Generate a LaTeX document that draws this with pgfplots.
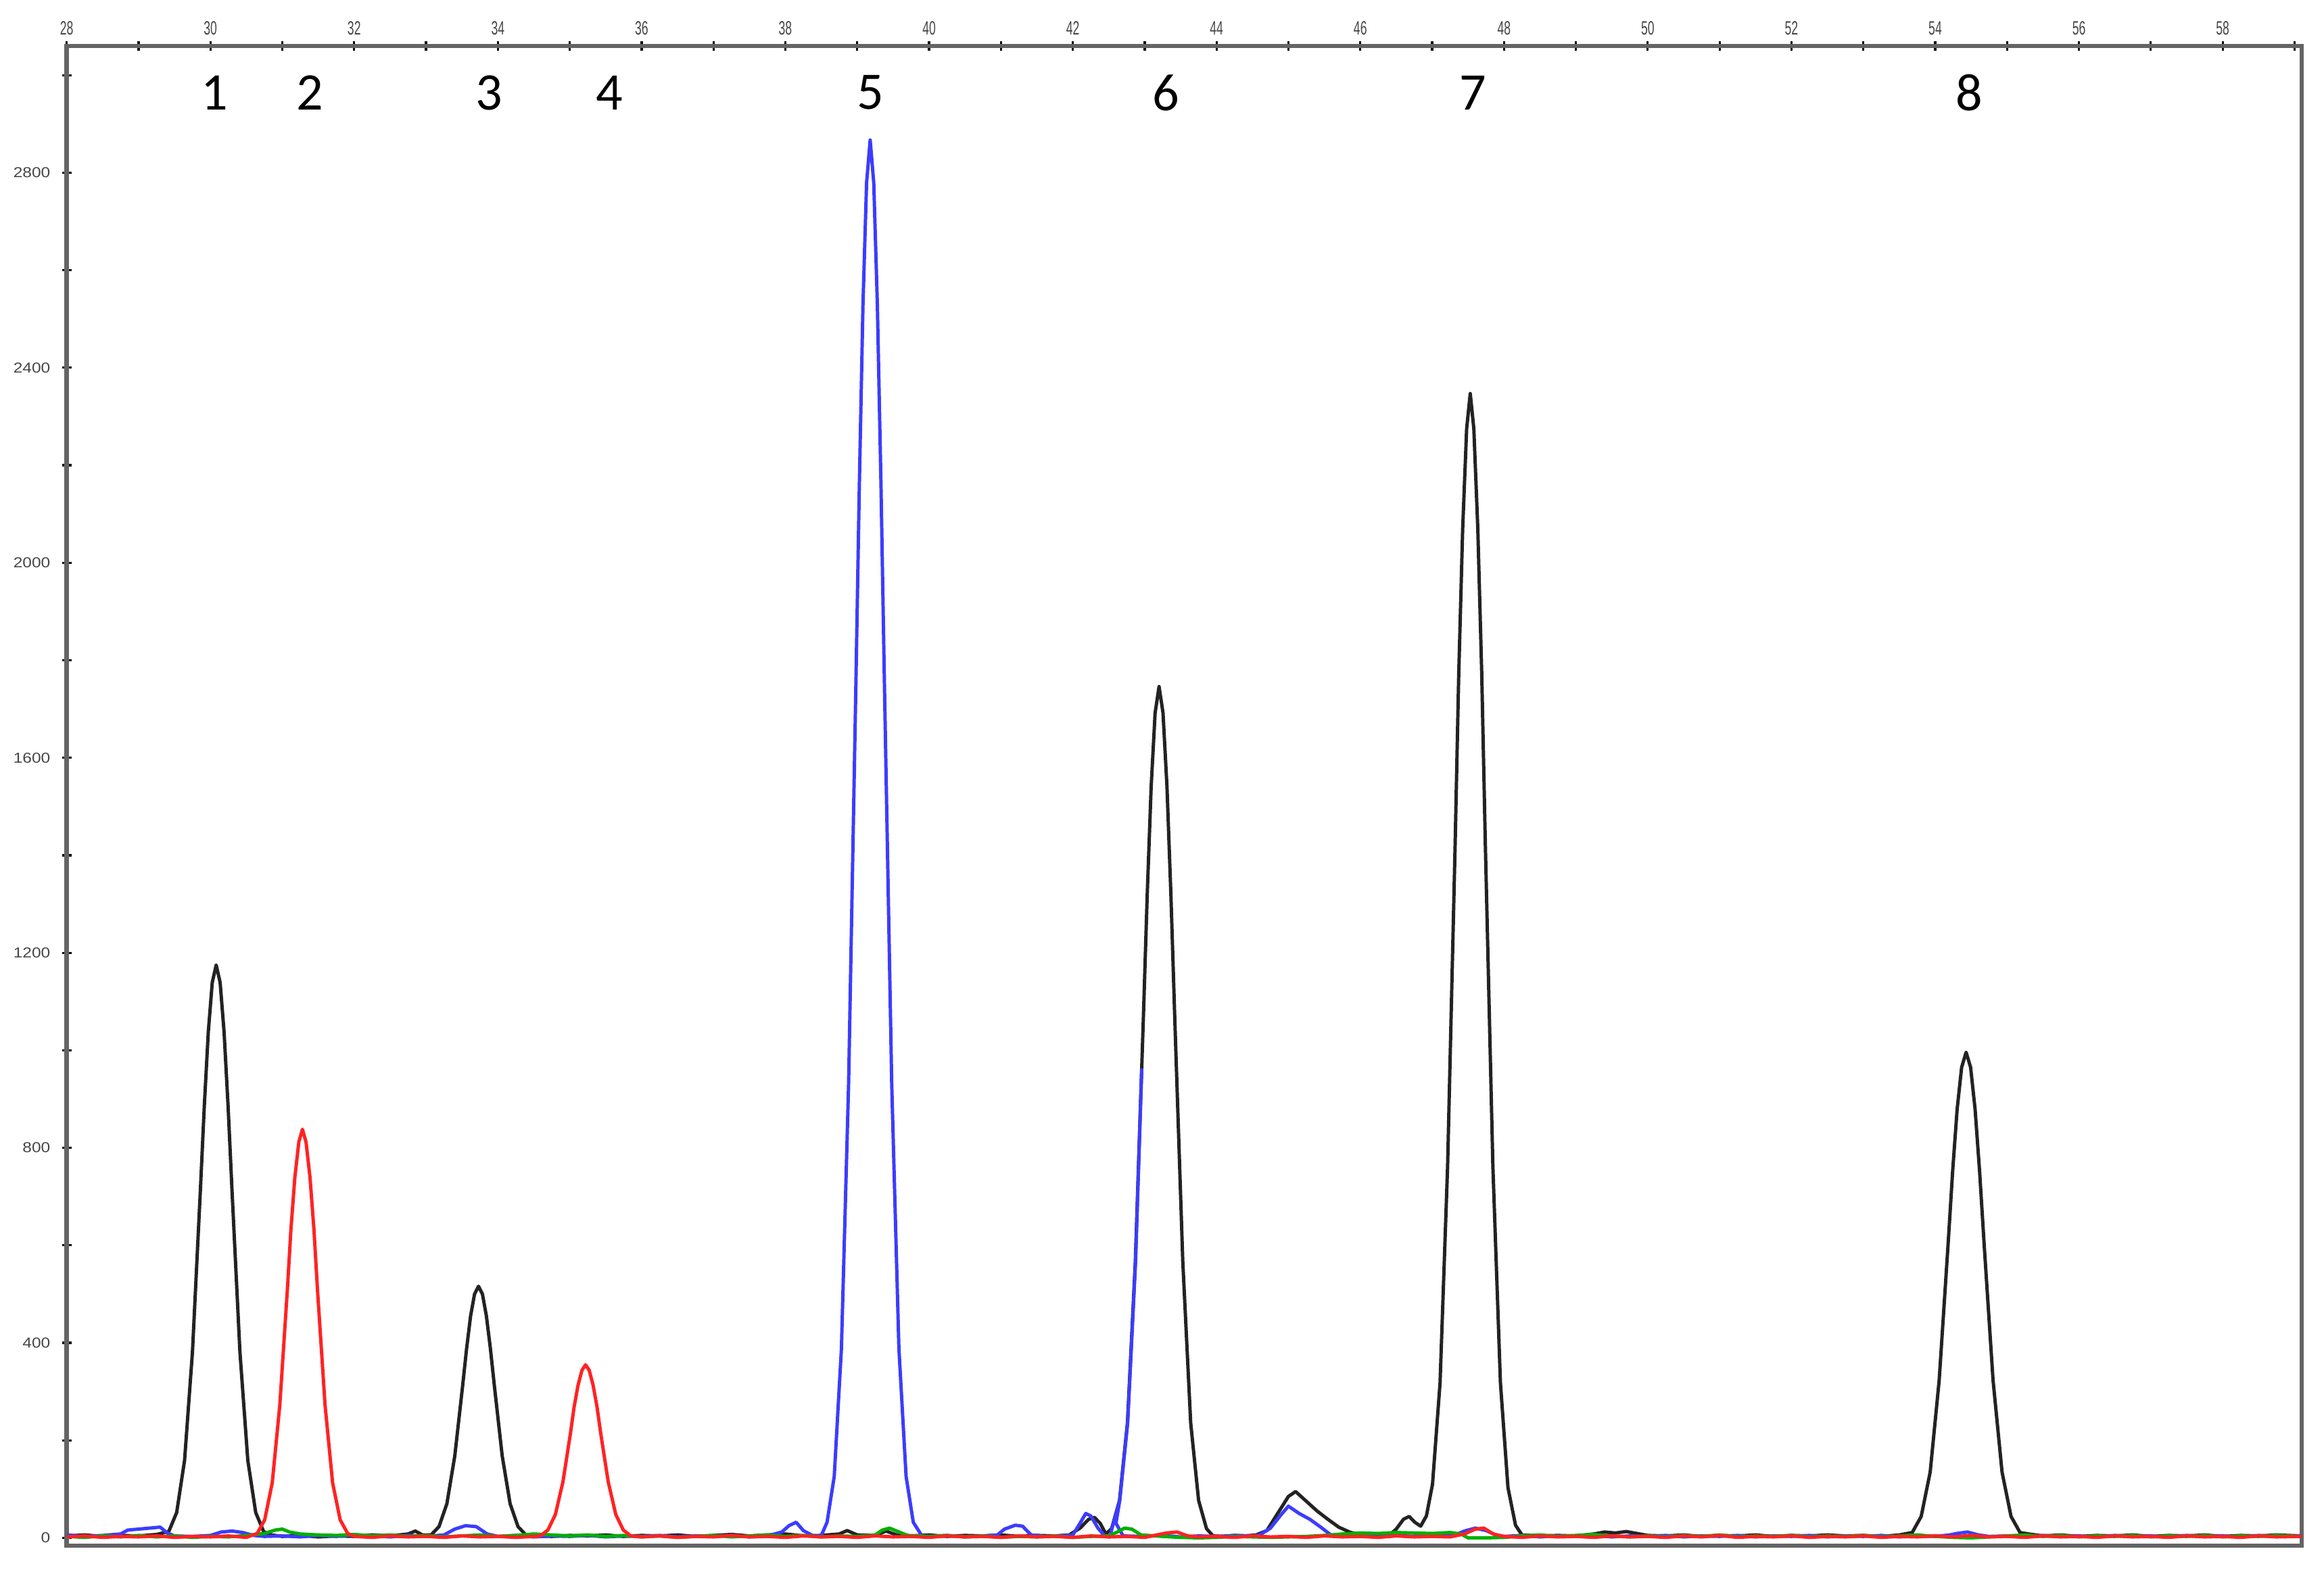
\documentclass[border=0pt]{standalone}
\usepackage{pgfplots}
\pgfplotsset{compat=1.18}
\usepackage{fontspec}
\setmainfont{Liberation Sans}
\newfontfamily\peakfont{Carlito}

\definecolor{trblack}{RGB}{35,35,35}
\definecolor{trred}{RGB}{255,35,35}
\definecolor{trblue}{RGB}{60,60,255}
\definecolor{trgreen}{RGB}{0,175,0}
\definecolor{framegray}{RGB}{100,100,100}

\begin{document}
\begin{tikzpicture}
\path[use as bounding box] (-0.488cm,-0.173cm) rectangle (16.512cm,11.307cm);
\begin{axis}[
  scale only axis, width=16.349cm, height=10.971cm,
  xmin=28, xmax=59.1, ymin=-16, ymax=3060,
  xtick={28,30,...,58}, minor xtick={29,31,...,59},
  ytick={0,400,...,2800}, minor ytick={200,600,...,3000},
  xtick pos=right, ytick pos=left,
  tick align=center, major tick length=0.07cm, minor tick length=0.07cm,
  every tick/.style={black, line width=0.45pt},
  axis line style={draw=framegray, line width=0.9pt},
  /pgf/number format/assume math mode=true,
  /pgf/number format/1000 sep={},
  x tick label style={font=\fontsize{4}{4.5}\selectfont, text=gray!55!black, xscale=0.62, yshift=-0.08cm},
  y tick label style={font=\fontsize{3}{3.4}\selectfont, text=gray!55!black, xscale=1.15, xshift=0.05cm},
  clip=false,
  every axis plot/.append style={line width=0.7pt, line join=round},
]
% black channel
\addplot[trblack] coordinates {
(28.0,4)(28.25,6)(28.5,3)(28.75,5)(29.0,4)(29.25,7)
(29.42,13)(29.53,52)(29.64,159)(29.75,382)(29.86,713)(29.915,887)(29.97,1037)(30.025,1139)(30.08,1175)
(30.135,1139)(30.19,1037)(30.245,887)(30.30,713)(30.41,382)(30.52,159)(30.63,52)(30.74,13)
(30.85,6)(31.0,3)(31.25,5)(31.5,2)(31.75,4)(32.0,3)(32.25,6)(32.5,4)(32.75,8)(32.85,14)(32.95,6)
(33.07,6)(33.18,23)(33.29,70)(33.40,168)(33.51,313)(33.565,389)(33.62,455)(33.675,500)(33.73,516)
(33.785,500)(33.84,455)(33.895,389)(33.95,313)(34.06,168)(34.17,70)(34.28,23)(34.39,6)
(34.5,4)(34.75,3)(35.0,5)(35.25,4)(35.5,6)(35.75,3)(36.0,5)(36.25,4)(36.5,6)(36.75,3)(37.0,5)
(37.25,7)(37.5,4)(37.75,6)(38.0,8)(38.25,4)(38.5,5)(38.75,8)(38.86,15)(39.0,6)(39.25,5)(39.4,14)
(39.55,6)(39.75,4)(40.0,6)(40.25,3)(40.5,5)(40.75,4)(41.0,6)(41.25,3)(41.5,5)(41.75,4)(41.95,6)
(42.1,20)(42.22,38)(42.3,42)(42.38,30)(42.46,8)
(42.54,19)(42.65,77)(42.76,236)(42.87,567)(42.98,1059)(43.035,1318)(43.09,1541)(43.145,1692)(43.20,1746)
(43.255,1692)(43.31,1541)(43.365,1318)(43.42,1059)(43.53,567)(43.64,236)(43.75,77)(43.86,19)
(43.95,4)(44.1,3)(44.25,5)(44.4,4)(44.55,6)(44.7,15)(44.85,50)(45.0,85)(45.1,95)(45.25,75)(45.4,55)
(45.55,38)(45.7,22)(45.85,12)(46.0,6)(46.2,4)(46.4,5)(46.5,18)(46.6,38)(46.68,44)(46.76,32)(46.84,24)
(46.92,45)(47.005,110)(47.11,318)(47.215,762)(47.32,1423)(47.37,1772)(47.425,2071)(47.48,2275)(47.53,2347)
(47.58,2275)(47.635,2071)(47.69,1772)(47.74,1423)(47.845,762)(47.95,318)(48.055,103)(48.16,26)
(48.25,6)(48.5,4)(48.75,5)(49.0,4)(49.25,8)(49.4,12)(49.55,10)(49.7,13)(49.85,9)(50.0,5)(50.25,4)
(50.5,6)(50.75,3)(51.0,5)(51.25,4)(51.5,6)(51.75,3)(52.0,5)(52.25,4)(52.5,6)(52.75,4)(53.0,5)(53.25,3)(53.5,6)
(53.68,11)(53.805,44)(53.93,135)(54.055,323)(54.18,604)(54.2425,752)(54.305,879)(54.3675,965)(54.43,996)
(54.4925,965)(54.555,879)(54.6175,752)(54.68,604)(54.805,323)(54.93,135)(55.055,44)(55.18,11)
(55.3,8)(55.5,4)(55.75,6)(56.0,3)(56.25,5)(56.5,4)(56.75,6)(57.0,3)(57.25,5)(57.5,4)(57.75,6)(58.0,3)
(58.25,5)(58.5,4)(58.75,6)(59.1,4)
};
% blue channel
\addplot[trblue] coordinates {
(28.0,6)(28.25,3)(28.5,5)(28.75,8)(28.85,16)(29.0,18)(29.15,20)(29.3,22)(29.4,10)(29.5,4)(29.75,3)
(30.0,5)(30.15,12)(30.3,14)(30.45,11)(30.6,5)(30.75,3)(31.0,4)(31.25,2)(31.5,5)(31.75,3)(32.0,6)
(32.25,4)(32.5,2)(32.75,5)(33.0,3)(33.25,6)(33.4,18)(33.55,25)(33.7,23)(33.85,8)(34.0,3)(34.25,5)
(34.5,2)(34.75,4)(35.0,3)(35.25,5)(35.5,2)(35.75,4)(36.0,3)(36.25,5)(36.5,2)(36.75,4)(37.0,3)
(37.25,5)(37.5,2)(37.75,4)(37.95,12)(38.05,25)(38.15,32)(38.25,15)(38.4,3)(38.5,5)
(38.58,32)(38.68,126)(38.78,388)(38.88,931)(38.98,1739)(39.03,2164)(39.08,2530)(39.13,2779)(39.18,2867)
(39.23,2779)(39.28,2530)(39.33,2164)(39.38,1739)(39.48,931)(39.58,388)(39.68,126)(39.78,32)
(39.9,4)(40.0,3)(40.25,5)(40.5,2)(40.75,4)(40.95,6)(41.05,18)(41.2,26)(41.3,24)(41.42,6)(41.6,3)
(41.8,4)(42.0,6)(42.1,30)(42.18,50)(42.25,45)(42.35,20)(42.45,3)(42.52,2)
(42.543,19)(42.653,77)(42.763,236)(42.873,567)(42.958,960)(42.873,567)(42.763,236)(42.653,77)(42.6,30)(42.7,4)
(43.0,3)(43.25,5)(43.5,2)(43.75,4)(44.0,3)(44.25,5)(44.5,4)(44.6,6)(44.75,20)(44.9,48)(45.0,65)
(45.15,50)(45.3,38)(45.45,22)(45.6,5)(45.75,3)(46.0,4)(46.25,2)(46.5,5)(46.75,3)(47.0,4)(47.3,5)
(47.45,14)(47.6,20)(47.75,15)(47.9,5)(48.0,3)(48.25,5)(48.5,2)(48.75,4)(49.0,3)(49.25,5)(49.5,2)
(49.75,4)(50.0,3)(50.25,5)(50.5,2)(50.75,4)(51.0,3)(51.25,5)(51.5,2)(51.75,4)(52.0,3)(52.25,5)
(52.5,2)(52.75,4)(53.0,3)(53.25,5)(53.5,2)(53.75,4)(54.0,3)(54.2,6)(54.3,9)(54.45,12)(54.6,6)
(54.75,3)(55.0,4)(55.25,2)(55.5,5)(55.75,3)(56.0,4)(56.25,2)(56.5,5)(56.75,3)(57.0,4)(57.25,2)
(57.5,5)(57.75,3)(58.0,4)(58.25,2)(58.5,5)(58.75,3)(59.1,4)
};
% green channel
\addplot[trgreen] coordinates {
(28.0,3)(28.25,1)(28.5,4)(28.75,2)(29.0,5)(29.25,2)(29.5,4)(29.75,1)(30.0,3)(30.25,2)(30.5,5)
(30.75,9)(30.9,16)(31.0,18)(31.1,12)(31.25,8)(31.5,6)(31.75,5)(32.0,7)(32.25,4)(32.5,6)(32.75,3)
(33.0,5)(33.25,2)(33.5,4)(33.75,6)(34.0,3)(34.25,5)(34.5,8)(34.75,6)(35.0,4)(35.25,6)(35.5,3)
(35.75,5)(36.0,2)(36.25,4)(36.5,1)(36.75,3)(37.0,5)(37.25,2)(37.5,4)(37.75,6)(38.0,3)(38.25,5)
(38.5,2)(38.75,4)(39.0,3)(39.25,6)(39.35,16)(39.45,20)(39.55,14)(39.7,5)(40.0,3)(40.25,5)(40.5,2)
(40.75,4)(41.0,1)(41.25,3)(41.5,2)(41.75,4)(42.0,1)(42.25,3)(42.5,4)(42.62,12)(42.72,20)(42.82,18)
(42.95,6)(43.25,3)(43.5,1)(43.75,0)(44.0,1)(44.25,3)(44.5,2)(44.75,1)(45.0,2)(45.25,3)(45.5,5)
(45.75,8)(46.0,10)(46.25,9)(46.5,11)(46.75,10)(47.0,9)(47.25,11)(47.4,8)(47.5,0)(47.75,0)(48.0,1)
(48.25,4)(48.5,6)(48.75,3)(49.0,5)(49.25,7)(49.5,4)(49.75,2)(50.0,4)(50.25,2)(50.5,5)(50.75,3)
(51.0,6)(51.25,2)(51.5,4)(51.75,3)(52.0,5)(52.25,2)(52.5,4)(52.75,3)(53.0,5)(53.25,2)(53.5,4)
(53.75,6)(54.0,3)(54.25,1)(54.5,0)(54.75,2)(55.0,4)(55.25,6)(55.5,3)(55.75,5)(56.0,2)(56.25,4)
(56.5,3)(56.75,5)(57.0,2)(57.25,4)(57.5,3)(57.75,5)(58.0,2)(58.25,4)(58.5,3)(58.75,5)(59.1,3)
};
% red channel
\addplot[trred] coordinates {
(28.0,2)(28.25,4)(28.5,1)(28.75,3)(29.0,2)(29.25,4)(29.5,1)(29.75,3)(30.0,2)(30.25,4)(30.5,1)
(30.65,9)(30.755,37)(30.86,113)(30.965,272)(31.07,508)(31.12,633)(31.175,740)(31.23,812)(31.28,838)
(31.33,812)(31.385,740)(31.44,633)(31.49,508)(31.595,272)(31.70,113)(31.805,37)(31.91,9)
(32.0,3)(32.25,1)(32.5,4)(32.75,2)(33.0,3)(33.25,1)(33.5,4)(33.75,2)(34.0,3)(34.25,1)(34.5,3)
(34.59,4)(34.695,16)(34.80,48)(34.905,115)(35.01,215)(35.06,268)(35.115,313)(35.17,344)(35.22,355)
(35.27,344)(35.325,313)(35.38,268)(35.43,215)(35.535,115)(35.64,48)(35.745,16)(35.85,4)
(36.0,2)(36.25,4)(36.5,1)(36.75,3)(37.0,2)(37.25,5)(37.5,2)(37.75,3)(38.0,1)(38.25,4)(38.5,2)
(38.75,3)(39.0,1)(39.25,4)(39.5,2)(39.75,3)(40.0,1)(40.25,4)(40.5,2)(40.75,3)(41.0,1)(41.25,4)
(41.5,2)(41.75,3)(42.0,1)(42.25,4)(42.5,2)(42.75,3)(43.0,1)(43.3,10)(43.45,12)(43.6,4)(43.75,2)
(44.0,3)(44.25,1)(44.5,4)(44.75,2)(45.0,3)(45.25,1)(45.5,4)(45.75,2)(46.0,3)(46.25,1)(46.5,4)
(46.75,2)(47.0,3)(47.25,2)(47.45,8)(47.6,18)(47.72,20)(47.85,8)(48.0,3)(48.25,1)(48.5,4)(48.75,2)
(49.0,3)(49.25,1)(49.5,4)(49.75,2)(50.0,3)(50.25,1)(50.5,4)(50.75,2)(51.0,5)(51.25,1)(51.5,3)
(51.75,2)(52.0,4)(52.25,1)(52.5,3)(52.75,2)(53.0,4)(53.25,1)(53.5,3)(53.75,2)(54.0,4)(54.25,2)
(54.5,5)(54.75,2)(55.0,3)(55.25,1)(55.5,4)(55.75,2)(56.0,3)(56.25,1)(56.5,4)(56.75,2)(57.0,3)
(57.25,1)(57.5,4)(57.75,2)(58.0,3)(58.25,1)(58.5,4)(58.75,2)(59.1,3)
};
% peak numbers
\begin{scope}[font=\peakfont\fontsize{11}{13}\selectfont]
\node at (axis cs:30.06,2964) {1};
\node at (axis cs:31.38,2964) {2};
\node at (axis cs:33.88,2964) {3};
\node at (axis cs:35.55,2964) {4};
\node at (axis cs:39.18,2964) {5};
\node at (axis cs:43.30,2964) {6};
\node at (axis cs:47.57,2964) {7};
\node at (axis cs:54.47,2964) {8};
\end{scope}
\end{axis}
\end{tikzpicture}
\end{document}
